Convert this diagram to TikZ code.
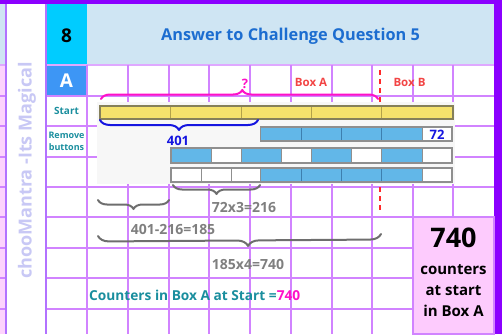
\documentclass[tikz,border=0pt]{standalone}
\usepackage{fontspec}
\setmainfont{Open Sans}
\usetikzlibrary{decorations.pathreplacing}
\definecolor{framepurple}{HTML}{8B00FF}
\definecolor{hdrblue}{HTML}{CFE5F3}
\definecolor{cyancell}{HTML}{00CCFF}
\definecolor{bluecell}{HTML}{3D96F5}
\definecolor{tealtext}{HTML}{1A8E9E}
\definecolor{gridc}{HTML}{D183FF}
\definecolor{gridd}{HTML}{B272FF}
\definecolor{boxred}{HTML}{F24545}
\definecolor{dashred}{HTML}{FF2A2A}
\definecolor{magc}{HTML}{FF10C8}
\definecolor{bluetext}{HTML}{1515E0}
\definecolor{graytext}{HTML}{7F7F7F}
\definecolor{graybrace}{HTML}{6E6E6E}
\definecolor{pinkbox}{HTML}{FDCBFD}
\definecolor{leftpink}{HTML}{FDD3FD}
\definecolor{titleblue}{HTML}{1C6DD0}
\definecolor{verttext}{HTML}{C8C8F5}
\definecolor{ybarc}{HTML}{F5E26C}
\definecolor{ybord}{HTML}{85805A}
\definecolor{ydiv}{HTML}{B3A34A}
\definecolor{bbarc}{HTML}{62B7E8}
\definecolor{bdiv}{HTML}{3D7FAF}
\definecolor{barbord}{HTML}{8F8F8F}
\definecolor{panelc}{HTML}{F7F7F7}
\tikzset{
  gridline/.style={gridc, line width=1.2pt},
  barframe/.style={draw=barbord, line width=1.1pt},
  bracestyle/.style={decorate, decoration={brace, amplitude=#1}, line width=2pt, line cap=round, line join=round},
  lbl/.style={font=\fontsize{#1}{#1}\selectfont\bfseries, inner sep=0pt},
}
\begin{document}
\begin{tikzpicture}[x=1pt,y=-1pt]
\useasboundingbox (0,0) rectangle (502,334);
% backgrounds
\fill[hdrblue] (0,4) rectangle (494,65);
\fill[leftpink] (0,65) rectangle (6,334);
\fill[cyancell] (46,4) rectangle (87,65);
\fill[bluecell] (46,65) rectangle (87,96);
% grid
\draw[gridc!70, line width=1.6pt] (0,65) -- (494,65);
\foreach \y in {96,126,157,187,217,248,278,309} \draw[gridline] (0,\y) -- (494,\y);
\foreach \x in {87,128,169,209,250,291,332,372,413,453} \draw[gridline] (\x,65) -- (\x,334);
% white column
\fill[white] (6,4) rectangle (46,334);
\draw[gridd, line width=1.2pt] (6,4) -- (6,334);
\draw[gridd, line width=1.2pt] (46,4) -- (46,334);
% frame
\fill[framepurple] (0,0) rectangle (502,4);
\fill[framepurple] (494,0) rectangle (502,334);
% texts in header / label column
\node[lbl=18, text=verttext, rotate=90] (brand) at (27,170.5) {chooMantra -Its Magical};
\node[lbl=19, text=black] (num) at (66.5,36) {8};
\node[lbl=16.3, text=titleblue] (title) at (290.5,36) {Answer to Challenge Question 5};
\node[lbl=19, text=white] (rowA) at (66.5,81) {A};
\node[lbl=10, text=tealtext] (start) at (66.5,111) {Start};
\node[lbl=9, text=tealtext, align=center, font=\fontsize{9}{12}\selectfont\bfseries] (remove) at (66.5,141) {Remove\\buttons};
% red dashed line
\coordinate (dtop) at (380,70);
\coordinate (dbot) at (380,213);
\draw[dashred, line width=2.2pt, dash pattern=on 5pt off 4pt] (dtop) -- (dbot);
% panel
\fill[panelc] (97,102) rectangle (455,184);
% yellow bar
\fill[ybarc] (100,106) rectangle (453,119);
\foreach \x in {170.5,241,311.5,381.5} \draw[ydiv, line width=1pt] (\x,106) -- (\x,119);
\draw[ybord, line width=1.1pt] (100,106) rectangle (453,119);
% blue row 1
\fill[bbarc] (260.7,127) rectangle (422,141);
\fill[white] (422,127) rectangle (452,141);
\foreach \x in {301,341.7,381.7} \draw[bdiv, line width=0.9pt] (\x,127) -- (\x,141);
\draw[barbord, line width=0.9pt] (422,127) -- (422,141);
\draw[barframe] (260.7,127) rectangle (452,141);
% blue row 2
\fill[white] (171,148) rectangle (452,163);
\foreach \a/\b in {171/211,241/281.5,311/351.7,381.7/422} \fill[bbarc] (\a,148) rectangle (\b,163);
\foreach \x in {211,241,281.5,311,351.7,381.7,422} \draw[barbord, line width=0.9pt] (\x,148) -- (\x,163);
\draw[barframe] (171,148) rectangle (452,163);
% blue row 3
\fill[white] (171,168) rectangle (452,182);
\fill[bbarc] (260.7,168) rectangle (422,182);
\foreach \x in {201,231,260.7,422} \draw[barbord, line width=0.9pt] (\x,168) -- (\x,182);
\foreach \x in {301,341.7,381.7} \draw[bdiv, line width=0.9pt] (\x,168) -- (\x,182);
\draw[barframe] (171,168) rectangle (452,182);
% labels above
\node[lbl=11.5, text=boxred] (boxA) at (311,82) {Box A};
\node[lbl=11.5, text=boxred] (boxB) at (409.5,82) {Box B};
\node[lbl=13, text=magc] (q) at (245,84) {?};
\node[lbl=13, text=bluetext] (n401) at (178,141) {401};
\node[lbl=13, text=bluetext] (n72) at (437,134.5) {72};
% braces
\coordinate (mA) at (101,99);
\coordinate (mB) at (378,99);
\draw[magc, bracestyle=9, decoration={aspect=0.51}] (mA) -- (mB);
\coordinate (bA) at (100,120);
\coordinate (bB) at (258,120);
\draw[bluetext, bracestyle=10, decoration={mirror}] (bA) -- (bB);
\coordinate (g1A) at (173,185);
\coordinate (g1B) at (260,185);
\draw[graybrace, bracestyle=9, decoration={mirror}] (g1A) -- (g1B);
\coordinate (g2A) at (98,200);
\coordinate (g2B) at (169,200);
\draw[graybrace, bracestyle=9, decoration={mirror}] (g2A) -- (g2B);
\coordinate (g3A) at (98,236);
\coordinate (g3B) at (381,234);
\draw[graybrace, bracestyle=11, decoration={mirror, aspect=0.53}] (g3A) -- (g3B);
% computations
\node[lbl=14, text=graytext] (c1) at (244,207) {72x3=216};
\node[lbl=14, text=graytext] (c2) at (173,229) {401-216=185};
\node[lbl=14, text=graytext] (c3) at (248,264) {185x4=740};
\node[lbl=13.7, text=tealtext, anchor=west] (res) at (89,295) {Counters in Box A at Start =\textcolor{magc}{740}};
% answer box
\draw[fill=pinkbox, draw=gridc, line width=1.2pt] (413,217) rectangle (494,334);
\node[lbl=27, text=black] (big) at (453.5,238) {740};
\node[lbl=15, text=black, align=center, font=\fontsize{15}{21}\selectfont\bfseries] (ans) at (453.5,291) {counters\\at start\\in Box A};
\end{tikzpicture}
\end{document}
